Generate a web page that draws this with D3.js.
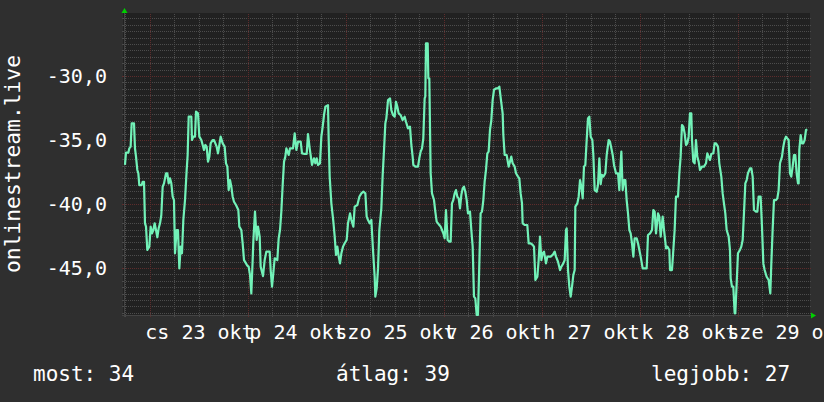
<!DOCTYPE html>
<html><head><meta charset="utf-8">
<script src="https://cdn.jsdelivr.net/npm/d3@7"></script>
<style>html,body{margin:0;padding:0;background:#2f2f2f;overflow:hidden}svg{display:block}text{font-family:"DejaVu Sans Mono",monospace;fill:#ffffff}</style>
</head><body><svg id="c" width="824" height="402"></svg>
<script>
const seriesName = "onlinestream.live";
const dayLabels = ["cs 23 okt","p 24 okt","szo 25 okt","v 26 okt","h 27 okt","k 28 okt","sze 29 okt"];
const dayNoons = ["2025-10-23T12:00","2025-10-24T12:00","2025-10-25T12:00","2025-10-26T12:00","2025-10-27T12:00","2025-10-28T12:00","2025-10-29T12:00"];
const yTickValues = [-30,-35,-40,-45];
const yTickLabels = ["-30,0","-35,0","-40,0","-45,0"];
const legendLabels = ["most: 34","átlag: 39","legjobb: 27"];
const startTime = "2025-10-22T17:38";
const spanHours = 168;
const yDomain = [-48.672, -25.156];

// hours since startTime
const hours = [
0.24,0.49,1.06,1.31,1.63,1.88,2.45,2.69,2.94,3.26,3.51,3.75,4.33,4.57,4.90,5.14,5.39,5.71,6.20,6.53,
6.86,7.18,7.51,7.84,8.16,8.49,8.82,9.14,9.47,9.80,10.29,10.61,10.94,11.27,11.59,11.92,12.24,12.49,12.90,13.22,
13.55,13.88,14.20,14.53,14.94,15.35,15.59,15.84,16.49,16.65,16.98,17.39,17.63,18.12,18.45,18.94,19.27,19.59,19.92,20.24,
20.57,20.90,21.22,21.71,22.04,22.37,22.69,23.02,23.35,23.67,24.16,24.65,24.98,25.31,25.63,25.96,26.29,26.61,26.94,27.43,
28.00,28.24,28.73,29.06,29.39,29.88,30.20,30.53,30.86,31.18,31.51,31.67,32.08,32.49,32.82,
33.23,33.47,34.04,34.45,34.86,35.68,35.92,36.25,36.49,36.90,37.55,37.88,38.21,38.53,38.86,39.19,39.51,39.76,40.33,40.66,
41.39,41.80,42.21,42.62,43.27,43.60,44.25,44.74,45.06,45.47,45.88,46.04,46.53,46.86,47.19,47.51,48.00,48.33,48.66,48.98,
49.31,49.96,50.13,50.37,50.78,51.27,51.60,51.92,52.25,52.58,52.90,53.23,53.64,54.04,54.53,54.86,55.35,55.68,56.17,56.49,
57.15,57.64,58.13,58.62,59.11,59.43,59.76,60.17,60.58,60.98,61.39,61.55,61.88,62.21,62.53,63.02,63.35,63.68,64.00,64.25,
64.66,65.15,65.47,65.88,66.29,
66.61,66.94,67.26,67.75,68.24,68.73,69.06,69.55,70.04,70.37,70.69,70.85,71.34,72.00,72.32,72.65,72.98,73.30,73.63,73.79,
73.96,74.37,74.53,74.77,75.10,75.43,75.92,76.24,76.57,76.90,77.22,77.55,77.88,78.20,78.53,78.85,79.26,79.67,80.00,80.32,
80.65,80.98,81.30,81.63,81.96,82.28,82.61,82.94,83.26,83.59,83.92,84.24,84.73,85.06,85.39,85.71,86.04,86.37,86.69,87.02,
87.34,87.67,88.00,88.32,88.65,88.98,89.30,89.63,89.96,90.28,90.61,91.10,91.59,91.92,92.32,92.73,92.90,93.22,93.71,94.20,
94.53,94.85,95.18,95.67,96.00,96.49,96.81,97.14,97.47,97.63,98.12,98.77,99.10,99.59,100.08,
100.41,100.74,101.23,101.55,101.88,102.21,102.53,102.86,103.35,103.68,104.00,104.49,104.98,105.47,105.80,106.29,106.78,107.10,107.59,107.92,
108.25,108.41,108.74,109.06,109.39,109.72,110.04,110.37,110.53,111.02,111.35,111.68,112.00,112.33,112.65,112.98,113.31,113.63,113.96,114.29,
114.70,114.94,115.27,115.76,116.08,116.41,116.74,117.06,117.39,117.88,118.21,118.70,119.02,119.35,119.68,120.00,120.49,120.98,121.31,121.63,
121.80,122.12,122.45,122.78,123.10,123.43,123.76,124.08,124.41,124.74,125.06,125.55,125.88,126.21,126.53,127.02,127.51,128.00,128.33,128.82,
129.31,129.63,129.96,130.29,130.78,131.10,131.43,131.92,132.25,132.74,133.06,133.55,133.72,
134.20,134.53,134.85,135.18,135.67,136.00,136.32,136.65,136.98,137.30,137.63,137.96,138.28,138.61,138.93,139.10,139.42,139.75,140.08,140.40,
140.73,141.06,141.55,142.04,142.53,142.85,143.18,143.51,143.83,144.32,144.65,144.98,145.47,145.79,146.28,146.61,146.93,147.26,147.59,148.08,
148.40,148.57,148.89,149.22,149.55,149.71,150.04,150.36,150.85,151.18,151.51,151.83,152.16,152.49,152.81,153.30,153.63,153.96,154.28,154.77,
155.10,155.42,155.91,156.24,156.57,156.89,157.38,157.87,158.28,158.53,158.85,159.18,159.67,160.00,160.32,160.65,161.14,161.47,161.79,162.12,
162.44,162.77,163.10,163.42,163.75,164.08,164.40,164.73,165.06,165.22,165.38,165.71,166.04,166.36,166.69,167.02,167.34
];
const values = [
-36.95,-35.99,-35.99,-35.65,-35.52,-33.70,-33.70,-35.65,-36.30,-37.34,-37.60,-38.52,-38.52,-38.26,-38.26,-41.51,-41.77,-43.59,-43.33,-41.77,
-42.29,-42.03,-41.51,-42.03,-42.60,-41.90,-41.51,-40.86,-38.65,-38.39,-37.60,-37.60,-38.39,-38.00,-38.39,-39.43,-39.69,-43.85,-42.03,-42.03,
-45.03,-43.33,-43.85,-41.25,-39.69,-37.34,-36.17,-33.18,-33.18,-35.00,-34.74,-34.74,-32.79,-32.92,-34.74,-35.00,-35.39,-35.78,-35.39,-35.52,
-36.69,-36.30,-35.26,-35.00,-35.00,-35.26,-35.52,-36.04,-35.39,-34.74,-35.26,-35.52,-36.82,-37.08,-38.91,-38.13,-38.65,-39.43,-39.82,-40.08,
-40.47,-41.77,-42.03,-43.07,-44.38,-44.64,-44.82,-44.90,-45.55,-46.98,-44.38,-42.94,-40.60,-42.81,-41.77,
-42.55,-44.90,-45.63,-44.38,-43.72,-43.72,-45.16,-46.46,-45.68,-44.24,-44.38,-42.68,-42.03,-40.60,-38.52,-36.69,-36.30,-35.65,-36.17,-35.65,
-35.65,-34.48,-35.78,-35.13,-35.13,-36.04,-36.09,-36.09,-34.53,-35.65,-36.56,-36.95,-36.43,-36.82,-36.43,-36.95,-36.82,-34.74,-33.96,-33.05,
-32.40,-32.27,-35.00,-37.86,-39.95,-41.38,-42.55,-43.98,-43.33,-44.11,-44.64,-43.85,-43.33,-43.07,-42.81,-41.51,-40.73,-41.25,-41.77,-40.21,
-40.08,-39.43,-39.17,-39.04,-39.17,-40.99,-41.25,-41.51,-41.25,-43.59,-45.68,-47.24,-46.59,-45.03,-42.03,-40.34,-37.73,-35.78,-33.70,-33.31,
-31.88,-31.75,-32.66,-33.05,-33.18,
-32.01,-32.40,-32.92,-33.05,-33.44,-33.18,-33.57,-34.09,-33.96,-35.39,-36.30,-36.95,-37.08,-37.08,-36.43,-35.91,-35.65,-34.87,-31.75,-31.61,
-27.45,-27.45,-30.18,-30.18,-37.60,-39.17,-39.69,-40.60,-41.38,-41.51,-41.64,-41.77,-42.03,-42.29,-42.68,-40.47,-42.81,-42.94,-42.94,-39.95,
-39.69,-39.17,-38.91,-39.43,-39.56,-40.34,-39.30,-38.78,-38.65,-39.04,-39.69,-40.73,-40.60,-42.03,-43.33,-47.24,-47.37,-48.67,-48.67,-44.64,
-40.73,-40.60,-39.69,-38.26,-37.34,-36.04,-35.91,-34.22,-33.44,-31.88,-31.09,-30.96,-30.96,-30.83,-31.88,-32.92,-34.61,-36.17,-36.17,-37.08,
-36.69,-36.30,-36.82,-37.08,-37.60,-37.86,-38.00,-39.17,-39.95,-41.51,-41.64,-41.64,-43.07,-43.07,-43.20,
-43.33,-45.94,-45.68,-44.38,-42.55,-44.38,-43.85,-43.72,-44.64,-44.11,-44.11,-44.11,-43.98,-43.72,-44.11,-44.51,-45.16,-44.90,-44.64,-44.38,
-42.03,-41.90,-45.16,-46.46,-47.24,-46.46,-45.55,-45.16,-40.21,-39.95,-39.43,-38.13,-38.65,-39.56,-37.08,-36.95,-35.00,-33.31,-33.18,-34.74,
-35.00,-36.17,-38.91,-39.04,-38.52,-36.43,-38.44,-37.73,-37.86,-37.60,-36.17,-35.00,-35.13,-35.65,-36.17,-36.95,-37.60,-37.60,-38.91,-36.82,
-35.91,-38.91,-38.13,-38.13,-39.69,-40.73,-42.03,-42.29,-43.07,-44.11,-42.68,-42.68,-43.07,-43.59,-44.11,-45.03,-45.03,-45.03,-42.42,-42.29,
-42.03,-40.47,-40.60,-42.29,-40.73,-40.99,-42.55,-40.99,-42.03,-43.46,-43.33,-43.59,-45.16,
-45.16,-43.59,-42.03,-39.43,-39.43,-37.60,-36.30,-33.83,-33.96,-34.48,-35.39,-35.26,-34.74,-32.92,-32.92,-35.00,-36.69,-36.82,-35.00,-36.30,
-36.69,-37.34,-37.08,-37.08,-36.82,-36.04,-36.30,-36.56,-36.09,-36.04,-35.26,-35.26,-35.52,-36.82,-37.86,-39.17,-39.95,-40.73,-42.03,-42.55,
-43.59,-45.81,-46.46,-46.46,-48.54,-48.54,-46.20,-43.85,-43.59,-43.33,-42.81,-40.73,-38.39,-38.13,-37.60,-37.21,-37.21,-37.86,-40.47,-40.60,
-40.60,-39.43,-39.43,-41.77,-44.64,-45.16,-45.68,-45.94,-46.98,-44.64,-42.03,-39.69,-39.69,-39.56,-38.91,-36.82,-36.30,-35.52,-35.00,-34.74,
-34.87,-35.00,-37.60,-37.86,-37.08,-36.17,-36.17,-37.60,-38.39,-38.39,-35.78,-34.61,-35.26,-35.26,-35.00,-34.22,-34.17
];

const W = 824, H = 402;
const L = 124, R = 810, T = 14, B = 315;
const svg = d3.select("#c");
const t0 = new Date(startTime);
const t1 = new Date(t0.getTime() + spanHours * 3600e3);
const x = d3.scaleTime().domain([t0, t1]).range([L, R]);
const y = d3.scaleLinear().domain(yDomain).range([B, T]);

svg.append("rect").attr("width", W).attr("height", H).attr("fill", "#2f2f2f");
svg.append("rect").attr("x", L - 1).attr("y", T - 1).attr("width", R - L + 1).attr("height", B - T + 1).attr("fill", "#212121");

const minorCol = "#4c4c4c", majorCol = "#5e2c2c";
const dash = "1,1";
// horizontal grid
const yMinor = d3.range(-48.5, -25.4, 0.5).filter(v => !yTickValues.includes(v));
const gGrid = svg.append("g").attr("shape-rendering", "crispEdges");
gGrid.selectAll(".hm").data(yMinor).join("line")
  .attr("x1", L).attr("x2", R + 1)
  .attr("y1", d => Math.round(y(d)) + 0.5).attr("y2", d => Math.round(y(d)) + 0.5)
  .attr("stroke", minorCol).attr("stroke-dasharray", dash);
gGrid.selectAll(".hmt").data(yMinor).join("line")
  .attr("x1", L - 2).attr("x2", L + 1)
  .attr("y1", d => Math.round(y(d)) + 0.5).attr("y2", d => Math.round(y(d)) + 0.5)
  .attr("stroke", "#4a4a4a");
// vertical grid
const vMinor = d3.timeHour.every(6).range(t0, t1).filter(d => d.getHours() !== 0);
const vMajor = d3.timeDay.range(t0, t1);
gGrid.selectAll(".vm").data(vMinor).join("line")
  .attr("x1", d => Math.round(x(d)) + 0.5).attr("x2", d => Math.round(x(d)) + 0.5)
  .attr("y1", T).attr("y2", B)
  .attr("stroke", minorCol).attr("stroke-dasharray", dash);
gGrid.selectAll(".vmt").data(vMinor).join("line")
  .attr("x1", d => Math.round(x(d)) + 0.5).attr("x2", d => Math.round(x(d)) + 0.5)
  .attr("y1", B - 1).attr("y2", B + 2).attr("stroke", "#4a4a4a");
gGrid.selectAll(".hM").data(yTickValues).join("line")
  .attr("x1", L).attr("x2", R + 1)
  .attr("y1", d => Math.round(y(d)) + 0.5).attr("y2", d => Math.round(y(d)) + 0.5)
  .attr("stroke", majorCol).attr("stroke-dasharray", dash);
gGrid.selectAll(".hMt").data(yTickValues).join("line")
  .attr("x1", L - 2).attr("x2", L + 1)
  .attr("y1", d => Math.round(y(d)) + 0.5).attr("y2", d => Math.round(y(d)) + 0.5)
  .attr("stroke", majorCol);
gGrid.selectAll(".vM").data(vMajor).join("line")
  .attr("x1", d => Math.round(x(d)) + 0.5).attr("x2", d => Math.round(x(d)) + 0.5)
  .attr("y1", T).attr("y2", B)
  .attr("stroke", majorCol).attr("stroke-dasharray", dash);
gGrid.selectAll(".vMt").data(vMajor).join("line")
  .attr("x1", d => Math.round(x(d)) + 0.5).attr("x2", d => Math.round(x(d)) + 0.5)
  .attr("y1", B - 1).attr("y2", B + 2).attr("stroke", majorCol);

// axes lines
gGrid.append("line").attr("x1", L + 0.5).attr("x2", L + 0.5).attr("y1", T - 2).attr("y2", B + 2).attr("stroke", "#444");
gGrid.append("line").attr("x1", L - 2).attr("x2", R + 3).attr("y1", B + 0.5).attr("y2", B + 0.5).attr("stroke", "#444");

// arrows
svg.append("path").attr("d", `M${L - 2.5},${T - 1}L${L + 3.5},${T - 1}L${L + 0.5},${T - 6}Z`).attr("fill", "#00d000");
svg.append("path").attr("d", `M${R + 1},${B - 2.5}L${R + 1},${B + 3.5}L${R + 6},${B + 0.5}Z`).attr("fill", "#00d000");

// data line
const data = hours.map((h, i) => ({ t: new Date(t0.getTime() + h * 3600e3), v: values[i] }));
svg.append("path").datum(data)
  .attr("d", d3.line().x(d => x(d.t)).y(d => y(d.v)))
  .attr("fill", "none").attr("stroke", "#72f2b8").attr("stroke-width", 2.2).attr("stroke-linejoin", "round");

// y axis labels
const yAxis = d3.axisLeft(y).tickValues(yTickValues).tickFormat((d, i) => yTickLabels[i]).tickSize(0).tickPadding(L - 107);
const gy = svg.append("g").attr("transform", `translate(${L},0)`).call(yAxis);
gy.select(".domain").remove();
gy.selectAll("text").style("font-size", "20px").style("font-family", '"DejaVu Sans Mono",monospace').attr("fill", "#ffffff");

// x axis labels
const noons = dayNoons.map(s => new Date(s));
const xAxis = d3.axisBottom(x).tickValues(noons).tickFormat((d, i) => dayLabels[i]).tickSize(0).tickPadding(10);
const gx = svg.append("g").attr("transform", `translate(0,${B})`).call(xAxis);
gx.select(".domain").remove();
gx.selectAll("text").style("font-size", "20px").style("font-family", '"DejaVu Sans Mono",monospace').attr("fill", "#ffffff");

// y title
svg.append("text").attr("transform", "translate(20,164) rotate(-90)").attr("text-anchor", "middle")
  .style("font-size", "21.3px").text(seriesName);

// legend
const legendX = [33, 336, 651];
svg.selectAll(".leg").data(legendLabels).join("text")
  .attr("x", (d, i) => legendX[i]).attr("y", 381).style("font-size", "21px").text(d => d);
</script>
</body></html>
